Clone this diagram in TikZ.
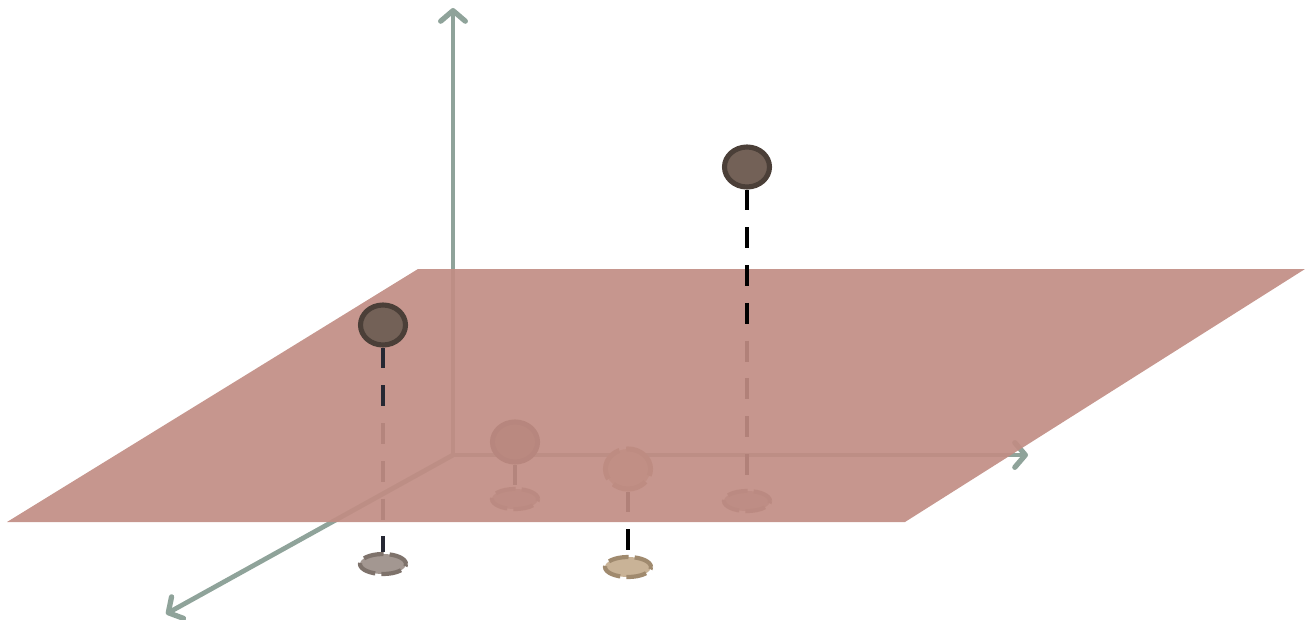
\documentclass[tikz,border=0pt]{standalone}
\usetikzlibrary{arrows.meta,shapes.geometric}

\definecolor{axisgray}{HTML}{8FA39A}
\definecolor{planered}{RGB}{193,141,132}
\definecolor{dotbrown}{HTML}{736157}
\definecolor{dotrim}{HTML}{4B3F38}
\definecolor{shadowgray}{HTML}{A39791}
\definecolor{shadowrim}{HTML}{7E726B}
\definecolor{shadowtan}{HTML}{C9B397}
\definecolor{tanrim}{HTML}{A08A6E}
\definecolor{dropnavy}{HTML}{262833}

\pgfdeclarelayer{under}
\pgfsetlayers{under,main}

\tikzset{
  axis/.style={draw=axisgray, line width=2.7pt, line cap=round,
    -{Straight Barb[length=6pt,width=14pt,round,line width=3pt]}},
  plane/.style={fill=planered, fill opacity=0.92},
  dot/.style={ellipse, draw=dotrim, fill=dotbrown, line width=2.9pt,
    minimum width=0.90cm, minimum height=0.80cm, inner sep=0pt},
  tandot/.style={dot, draw=tanrim, fill=shadowtan, dash pattern=on 20pt off 4pt},
  shadow/.style={ellipse, draw=shadowrim, fill=shadowgray, line width=2.4pt,
    minimum width=0.92cm, minimum height=0.4cm, inner sep=0pt,
    dash pattern=on 11.5pt off 3.5pt},
  tanshadow/.style={shadow, draw=tanrim, fill=shadowtan},
  drop/.style={line width=2.8pt, dash pattern=on 11.9pt off 9.6pt},
}

\begin{document}
\begin{tikzpicture}[x={(0.02cm,0)}, y={(0,-0.02cm)}]
  \useasboundingbox (0,0) rectangle (1305,619);

  % the plane
  \fill[plane] (418,269) -- (1305,269) -- (905,522) -- (7,522) -- cycle;

  % points above the plane
  \node[dot] (p1) at (383,325) {};
  \node[dot] (p4) at (747,167) {};
  \coordinate (c1) at (383,412);
  \coordinate (c4) at (747,330);
  \draw[drop, dropnavy] (p1) -- (c1);
  \draw[drop, black] (p4) -- (c4);

  % everything behind the plane
  \begin{pgfonlayer}{under}
    \coordinate (o) at (453,455);
    \coordinate (zend) at (453,8);
    \coordinate (xend) at (1028,455);
    \coordinate (yend) at (166,614);
    \draw[axis] (o) -- (zend);
    \draw[axis] (o) -- (xend);
    \draw[axis] (o) -- (yend);

    \node[dot] (p2) at (515,442) {};
    \node[tandot] (p3) at (628,469) {};

    \node[shadow] (s1) at (383,564) {};
    \node[shadow] (s2) at (515,499) {};
    \node[tanshadow] (s3) at (628,567) {};
    \node[shadow] (s4) at (747,501) {};

    \draw[drop, dropnavy] (p1) -- (s1);
    \draw[drop, dropnavy] (p2) -- (s2);
    \draw[drop, black] (p3) -- (s3);
    \draw[drop, black] (p4) -- (s4);
  \end{pgfonlayer}
\end{tikzpicture}
\end{document}
